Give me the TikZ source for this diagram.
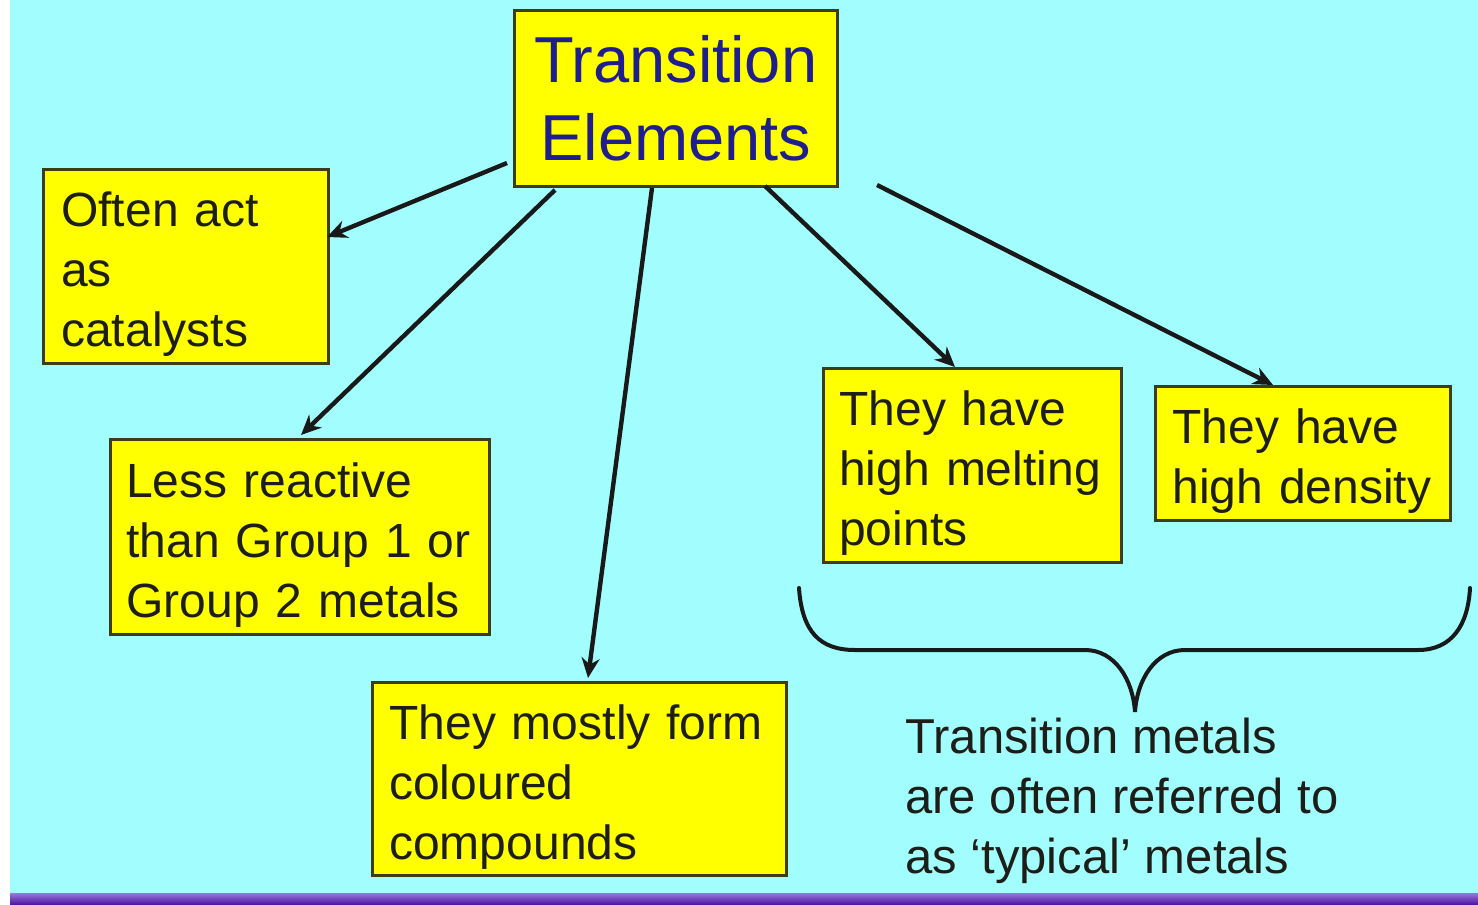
\documentclass[tikz,border=0pt]{standalone}
\usepackage{fontspec}
\setmainfont{Liberation Sans}
\usetikzlibrary{arrows.meta}
\definecolor{bgcyan}{RGB}{162,254,254}
\definecolor{boxyellow}{RGB}{255,255,0}
\definecolor{boxedge}{RGB}{60,60,25}
\definecolor{titleblue}{RGB}{30,30,140}
\definecolor{inktext}{RGB}{30,30,25}
\definecolor{barpurple}{RGB}{75,15,160}
\definecolor{barlight}{RGB}{150,120,220}
\newcommand{\tpad}{\rule{0pt}{25.5pt}}
\begin{document}
\begin{tikzpicture}[x=0.5pt,y=-0.5pt,
  box/.style={draw=boxedge, line width=1.3pt, fill=boxyellow, text=inktext,
    font=\fontsize{24}{30}\selectfont, align=left, anchor=north west, inner ysep=0pt},
  titlebox/.style={draw=boxedge, line width=1.3pt, fill=boxyellow, text=titleblue,
    font=\fontsize{32.5}{39}\selectfont, align=center, anchor=north west, inner sep=0pt},
  notetext/.style={text=inktext, font=\fontsize{24.5}{30}\selectfont, align=left, anchor=north west, inner sep=0pt},
  conn/.style={line width=2.2pt, draw=black!90, -{Stealth[length=10pt,width=9pt]}},
  bracestyle/.style={line width=2pt, draw=black!90, line cap=round}
]
% background
\fill[white] (0,0) rectangle (1478,905);
\fill[bgcyan] (10,0) rectangle (1478,895);
\shade[top color=barlight, bottom color=barpurple] (10,893) rectangle (1478,905);
\useasboundingbox (0,0) rectangle (1478,905);

% nodes
\node[titlebox, minimum width=161.5pt, minimum height=88pt] (title) at (513,9) {Transition\\Elements};
\node[box, minimum width=142.5pt, minimum height=97pt, inner xsep=9pt, text width=124.5pt] (catal) at (42,168) {\tpad Often act\\as\\catalysts};
\node[box, minimum width=189.5pt, minimum height=97.5pt, inner xsep=8pt, text width=173.5pt] (lessr) at (109,438) {\tpad Less reactive\\than Group 1 or\\Group 2 metals};
\node[box, minimum width=207pt, minimum height=96.5pt, inner xsep=8.5pt, text width=190pt] (colour) at (371,681) {\tpad They mostly form\\coloured\\compounds};
\node[box, minimum width=149pt, minimum height=97pt, inner xsep=8pt, text width=133pt] (melt) at (822,367) {\tpad They have\\high melting\\points};
\node[box, minimum width=147.5pt, minimum height=67pt, inner xsep=8.5pt, text width=130.5pt] (dens) at (1154,385) {\tpad They have\\high density};
\node[notetext] (note) at (905,718) {Transition metals\\are often referred to\\as ‘typical’ metals};

% connector end points
\coordinate (s1) at (507,163);
\coordinate (s2) at (555,190);
\coordinate (s3) at (652,188);
\coordinate (s4) at (765,186);
\coordinate (s5) at (877,185);
\coordinate (e1) at (327,237);
\coordinate (e2) at (301,435);
\coordinate (e3) at (588,678);
\coordinate (e4) at (955,367);
\coordinate (e5) at (1273,385);

\draw[conn] (s1) -- (e1);
\draw[conn] (s2) -- (e2);
\draw[conn] (s3) -- (e3);
\draw[conn] (s4) -- (e4);
\draw[conn] (s5) -- (e5);

% brace
\draw[bracestyle] (799,588) .. controls (802,632) and (820,650) .. (855,650)
  -- (1085,650) .. controls (1115,650) and (1133,680) .. (1135,712)
  .. controls (1137,680) and (1155,650) .. (1185,650)
  -- (1418,650) .. controls (1452,650) and (1468,625) .. (1470,588);
\end{tikzpicture}
\end{document}
